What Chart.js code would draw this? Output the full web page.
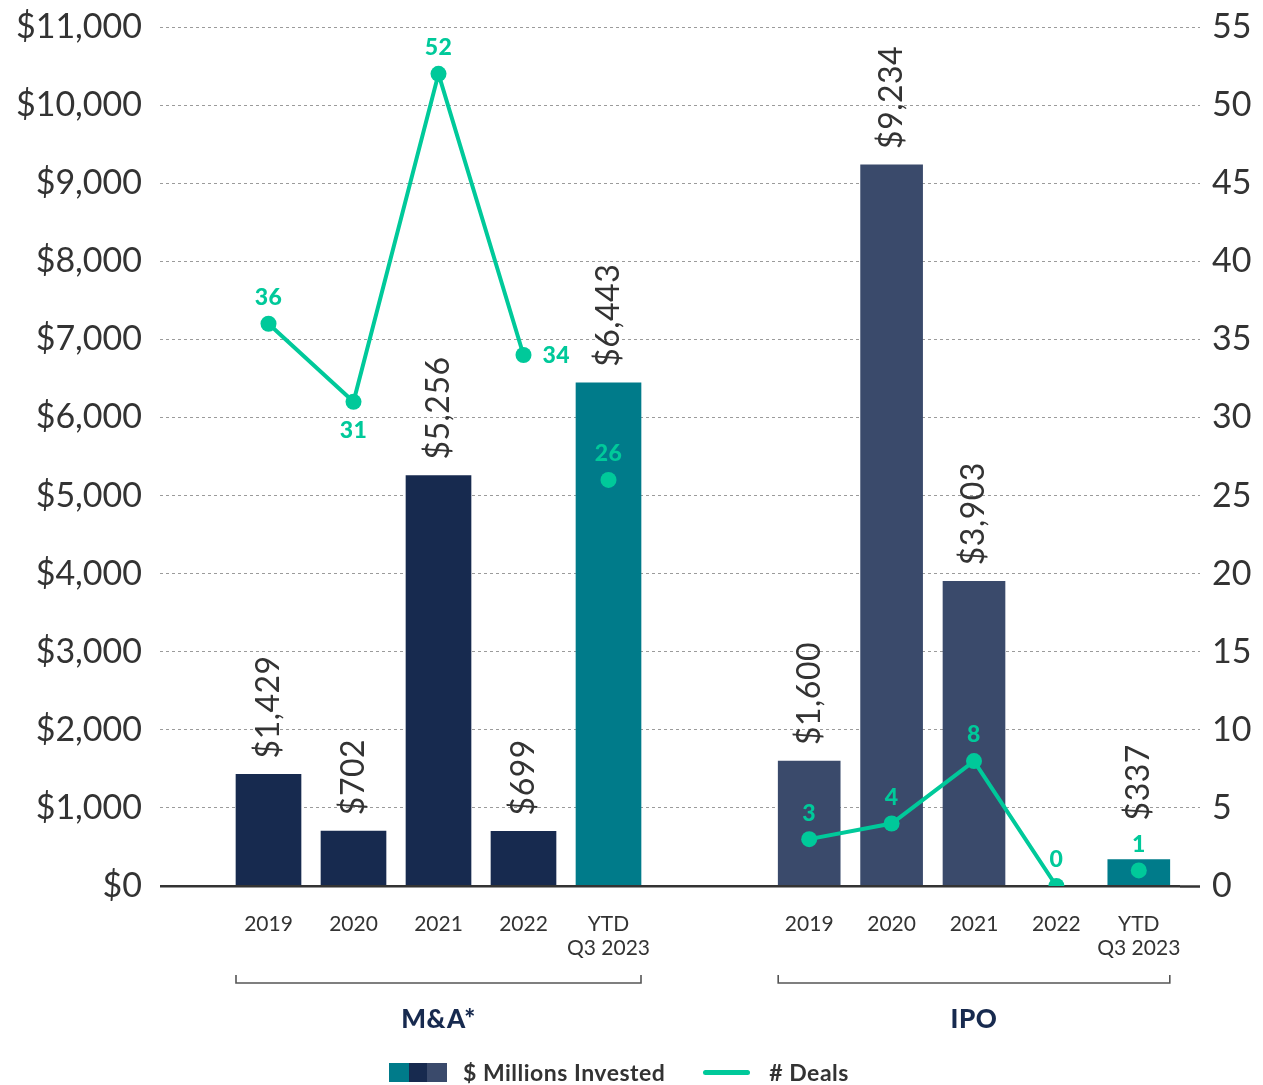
<!DOCTYPE html>
<html>
<head>
<meta charset="utf-8">
<title>M&amp;A and IPO activity</title>
<script src="https://cdn.jsdelivr.net/npm/chart.js@4.4.1/dist/chart.umd.min.js"></script>
<style>
  html, body { margin: 0; padding: 0; background: #ffffff; }
  #wrap { position: relative; width: 1263px; height: 1085px; }
  #legend {
    position: absolute; top: 1060px; left: 389px;
    display: flex; align-items: center;
    font-family: Lato, sans-serif; font-weight: 700; font-size: 23px; color: #333333;
    letter-spacing: 0.5px; height: 24px;
  }
  .sw { display: inline-block; height: 19px; }
  .ln { display: inline-block; width: 47px; height: 5px; border-radius: 3px; background: #00c99a; }
</style>
</head>
<body>
<div id="wrap">
  <canvas id="chart" width="1263" height="1085"></canvas>
  <div id="legend">
    <span class="sw" style="width:20px;background:#007b8a"></span><span class="sw" style="width:18px;background:#172a4f"></span><span class="sw" style="width:20px;background:#3a4a6b"></span>
    <span style="margin-left:16px">$ Millions Invested</span>
    <span class="ln" style="margin-left:38px"></span>
    <span style="margin-left:19px"># Deals</span>
  </div>
</div>
<script>
// Periods shown for each deal type
const years = ['2019', '2020', '2021', '2022', ['YTD', 'Q3 2023']];
const groups = ['M&A*', 'IPO'];

// $ millions invested
const maInvested = [1429, 702, 5256, 699, 6443];
const ipoInvested = [1600, 9234, 3903, null, 337];

// number of deals
const maDeals = [36, 31, 52, 34, 26];
const ipoDeals = [3, 4, 8, 0, 1];

// where each deal-count label sits relative to its point
const maDealLabelSide = ['above', 'below', 'above', 'right', 'above'];
const ipoDealLabelSide = ['above', 'above', 'above', 'above', 'above'];

const NAVY = '#172a4f';
const SLATE = '#3a4a6b';
const TEAL = '#007b8a';
const GREEN = '#00c99a';
const TEXT = '#333333';
const GRID = '#9b9b9b';

Chart.defaults.font.family = 'Lato, sans-serif';
Chart.defaults.color = TEXT;

const n = years.length;
const annualOnly = arr => arr.map((v, i) => (i < n - 1 ? v : null));
const ytdOnly = arr => arr.map((v, i) => (i === n - 1 ? v : null));
const barColors = base => years.map((_, i) => (i < n - 1 ? base : TEAL));

const isZero = ctx => ctx.tick && ctx.tick.value === 0;

// dataset indexes: bars, annual deal lines, YTD deal points
const BAR_SETS = [0, 1];
const DEAL_SETS = [
  { index: 2, sides: maDealLabelSide },
  { index: 3, sides: ipoDealLabelSide },
  { index: 4, sides: maDealLabelSide },
  { index: 5, sides: ipoDealLabelSide }
];
const DEAL_RISE = 26;     // distance from a point to a label placed above it
const DEAL_HALF = 12;     // half height of a deal label
const BAR_LABEL_GAP = 16; // distance from a bar top to its $ label

// rotated $ labels above bars, deal counts near points
const valueLabels = {
  id: 'valueLabels',
  afterDatasetsDraw(chart) {
    const ctx = chart.ctx;

    // vertical extent of each deal label that sits above its point
    const dealSpans = {};
    DEAL_SETS.forEach(({ index, sides }) => {
      const ds = chart.data.datasets[index];
      chart.getDatasetMeta(index).data.forEach((el, i) => {
        if (ds.data[i] == null || sides[i] !== 'above') return;
        const mid = el.y - DEAL_RISE;
        dealSpans[ds.xAxisID + ':' + i] = [mid - DEAL_HALF, mid + DEAL_HALF];
      });
    });

    BAR_SETS.forEach(di => {
      const ds = chart.data.datasets[di];
      chart.getDatasetMeta(di).data.forEach((el, i) => {
        const v = ds.data[i];
        if (v == null) return;
        const text = '$' + v.toLocaleString('en-US');
        ctx.save();
        ctx.font = '400 32px Lato, sans-serif';
        ctx.letterSpacing = '0.5px';
        const len = ctx.measureText(text).width;
        let start = el.y - BAR_LABEL_GAP;
        const span = dealSpans[ds.xAxisID + ':' + i];
        // lift the $ label clear of a deal label that would overlap it
        if (span && span[0] < start && span[1] > start - len) start = span[0] - 12;
        ctx.translate(el.x, start);
        ctx.rotate(-Math.PI / 2);
        ctx.fillStyle = TEXT;
        ctx.textAlign = 'left';
        ctx.textBaseline = 'middle';
        ctx.fillText(text, 0, 0);
        ctx.restore();
      });
    });

    DEAL_SETS.forEach(({ index, sides }) => {
      const ds = chart.data.datasets[index];
      chart.getDatasetMeta(index).data.forEach((el, i) => {
        const v = ds.data[i];
        if (v == null) return;
        const side = sides[i];
        ctx.save();
        ctx.font = '900 23px Lato, sans-serif';
        ctx.letterSpacing = '0.5px';
        ctx.fillStyle = GREEN;
        ctx.textBaseline = 'middle';
        if (side === 'right') {
          ctx.textAlign = 'left';
          ctx.fillText(String(v), el.x + 19, el.y + 1);
        } else if (side === 'below') {
          ctx.textAlign = 'center';
          ctx.fillText(String(v), el.x, el.y + 29);
        } else {
          ctx.textAlign = 'center';
          ctx.fillText(String(v), el.x, el.y - DEAL_RISE);
        }
        ctx.restore();
      });
    });
  }
};

// brackets and names under each group of bars
const groupBrackets = {
  id: 'groupBrackets',
  afterDraw(chart) {
    const ctx = chart.ctx;
    const base = chart.chartArea.bottom;
    ['xMA', 'xIPO'].forEach((axisId, gi) => {
      const xs = chart.scales[axisId];
      const els = chart.getDatasetMeta(gi).data;
      const half = els[0].width / 2;
      const x0 = xs.getPixelForValue(0) - half;
      const x1 = xs.getPixelForValue(n - 1) + half;
      const yb = base + 97;
      ctx.save();
      ctx.strokeStyle = '#555555';
      ctx.lineWidth = 1.6;
      ctx.beginPath();
      ctx.moveTo(x0, yb - 8);
      ctx.lineTo(x0, yb);
      ctx.lineTo(x1, yb);
      ctx.lineTo(x1, yb - 8);
      ctx.stroke();
      ctx.font = '900 26px Lato, sans-serif';
      ctx.letterSpacing = '0.5px';
      ctx.fillStyle = NAVY;
      ctx.textAlign = 'center';
      ctx.textBaseline = 'middle';
      ctx.fillText(groups[gi], (x0 + x1) / 2, base + 134);
      ctx.restore();
    });
  }
};

const groupAxis = (labels, weight) => ({
  type: 'category',
  labels: labels,
  position: 'bottom',
  stack: 'groups',
  stackWeight: weight,
  offset: true,
  grid: { display: false, drawTicks: false },
  border: { display: false },
  ticks: {
    autoSkip: false, maxRotation: 0, minRotation: 0, padding: 26,
    color: TEXT, font: { size: 21, lineHeight: 1.15 }
  },
  afterFit(s) { s.height = 199; s.paddingLeft = 0; s.paddingRight = 0; }
});

const dealPoints = {
  pointRadius: 8, pointHoverRadius: 8,
  pointBackgroundColor: GREEN, pointBorderWidth: 0,
  borderColor: GREEN, yAxisID: 'y1', order: 1
};

new Chart(document.getElementById('chart'), {
  data: {
    datasets: [
      {
        type: 'bar', label: 'M&A $ Millions Invested',
        data: maInvested, backgroundColor: barColors(NAVY),
        barThickness: 65, grouped: false, xAxisID: 'xMA', yAxisID: 'y', order: 2
      },
      {
        type: 'bar', label: 'IPO $ Millions Invested',
        data: ipoInvested, backgroundColor: barColors(SLATE),
        barThickness: 62, grouped: false, xAxisID: 'xIPO', yAxisID: 'y', order: 2
      },
      { type: 'line', label: 'M&A # Deals', data: annualOnly(maDeals), borderWidth: 4, spanGaps: false, xAxisID: 'xMA', ...dealPoints },
      { type: 'line', label: 'IPO # Deals', data: annualOnly(ipoDeals), borderWidth: 4, spanGaps: false, xAxisID: 'xIPO', ...dealPoints },
      { type: 'line', label: 'M&A # Deals YTD', data: ytdOnly(maDeals), showLine: false, xAxisID: 'xMA', ...dealPoints },
      { type: 'line', label: 'IPO # Deals YTD', data: ytdOnly(ipoDeals), showLine: false, xAxisID: 'xIPO', ...dealPoints }
    ]
  },
  options: {
    responsive: false,
    animation: false,
    devicePixelRatio: 1,
    layout: { padding: { top: 27, left: 0, right: 0, bottom: 0 } },
    plugins: { legend: { display: false }, tooltip: { enabled: false } },
    scales: {
      xMA: groupAxis(years, 425),
      xGap: {
        type: 'category', labels: [''], position: 'bottom',
        stack: 'groups', stackWeight: 117, offset: true,
        grid: { display: false, drawTicks: false }, border: { display: false },
        ticks: { display: false },
        afterFit(s) { s.height = 199; s.paddingLeft = 0; s.paddingRight = 0; }
      },
      xIPO: groupAxis(years, 412),
      y: {
        position: 'left', min: 0, max: 11000,
        ticks: {
          stepSize: 1000, padding: 18, color: TEXT, font: { size: 34 },
          callback: v => '$' + Number(v).toLocaleString('en-US')
        },
        grid: {
          color: ctx => (isZero(ctx) ? TEXT : GRID),
          lineWidth: ctx => (isZero(ctx) ? 2.5 : 1),
          tickLength: 66,
          tickColor: ctx => (isZero(ctx) ? TEXT : GRID),
          tickWidth: ctx => (isZero(ctx) ? 2.5 : 1),
          tickBorderDash: ctx => (isZero(ctx) ? [] : [3, 3])
        },
        border: { display: false, dash: ctx => (isZero(ctx) ? [] : [3, 3]) },
        afterFit(s) { s.width = 226; s.paddingTop = 0; s.paddingBottom = 0; }
      },
      y1: {
        position: 'right', min: 0, max: 55,
        ticks: { stepSize: 5, padding: 12, color: TEXT, font: { size: 34 } },
        grid: {
          drawOnChartArea: false,
          tickLength: 20,
          tickColor: ctx => (isZero(ctx) ? TEXT : GRID),
          tickWidth: ctx => (isZero(ctx) ? 2.5 : 1),
          tickBorderDash: ctx => (isZero(ctx) ? [] : [3, 3])
        },
        border: { display: false },
        afterFit(s) { s.width = 83; s.paddingTop = 0; s.paddingBottom = 0; }
      }
    }
  },
  plugins: [valueLabels, groupBrackets]
});
</script>
</body>
</html>
